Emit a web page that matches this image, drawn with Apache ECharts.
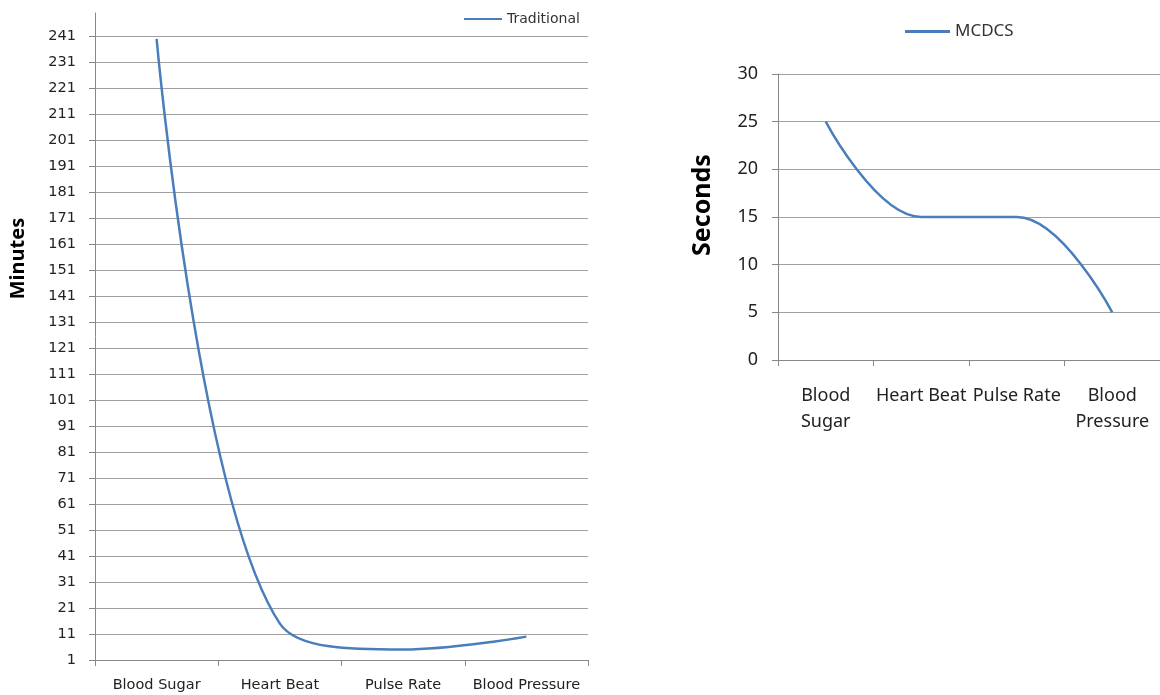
<!DOCTYPE html>
<html>
<head>
<meta charset="utf-8">
<script src="https://cdn.jsdelivr.net/npm/echarts@6/dist/echarts.min.js"></script>
<style>html,body{margin:0;padding:0;background:#fff}#c{width:1160px;height:695px}</style>
</head>
<body>
<div id="c"></div>
<script>
const categories = ['Blood Sugar', 'Heart Beat', 'Pulse Rate', 'Blood Pressure'];
const traditionalMinutes = [240, 15, 5, 10];
const mcdcsSeconds = [25, 15, 15, 5];

const lineColor = '#4a7ebb';
const axisGray = '#888888';
const gridGray = '#a0a0a0';

const chart = echarts.init(document.getElementById('c'));
chart.setOption({
  animation: false,
  backgroundColor: '#fff',
  legend: [
    {
      data: ['Traditional'], left: 459, top: 7, icon: 'rect', itemWidth: 38, itemHeight: 2, itemGap: 3,
      textStyle: { fontFamily: 'DejaVu Sans', fontSize: 14, color: '#333' }
    },
    {
      data: ['MCDCS'], left: 900, top: 18, icon: 'rect', itemWidth: 45, itemHeight: 3, itemGap: 4,
      textStyle: { fontFamily: 'Noto Sans', fontSize: 17, color: '#333' }
    }
  ],
  grid: [
    { left: 95, top: 13, width: 493, height: 647 },
    { left: 778, top: 74, width: 383, height: 286 }
  ],
  xAxis: [
    {
      type: 'category', gridIndex: 0, data: categories, boundaryGap: true,
      axisLine: { lineStyle: { color: axisGray, width: 1 } },
      axisTick: { show: true, length: 6, lineStyle: { color: axisGray } },
      axisLabel: { fontFamily: 'DejaVu Sans', fontSize: 14.5, color: '#222', margin: 18, interval: 0 }
    },
    {
      type: 'category', gridIndex: 1, data: categories, boundaryGap: true,
      axisLine: { lineStyle: { color: axisGray, width: 1 } },
      axisTick: { show: true, length: 6, lineStyle: { color: axisGray } },
      axisLabel: {
        fontFamily: 'Noto Sans', fontSize: 18, color: '#222', margin: 23, interval: 0, lineHeight: 26,
        formatter: v => v.startsWith('Blood') ? v.replace(' ', '\n') : v
      }
    }
  ],
  yAxis: [
    {
      type: 'value', gridIndex: 0, min: 1, max: 250, interval: 10,
      name: 'Minutes', nameLocation: 'middle', nameGap: 67, nameRotate: 90,
      nameTextStyle: { fontFamily: 'Noto Sans', fontSize: 20, color: '#000', fontWeight: 'bold', padding: [0, 0, 0, 156] },
      axisLine: { show: true, lineStyle: { color: axisGray, width: 1 } },
      axisTick: { show: true, length: 6, lineStyle: { color: axisGray } },
      axisLabel: { fontFamily: 'DejaVu Sans', fontSize: 14.5, color: '#222', margin: 19, showMaxLabel: false },
      splitLine: { show: true, showMaxLine: false, lineStyle: { color: gridGray, width: 1 } }
    },
    {
      type: 'value', gridIndex: 1, min: 0, max: 30, interval: 5,
      name: 'Seconds', nameLocation: 'middle', nameGap: 63, nameRotate: 90,
      nameTextStyle: { fontFamily: 'Noto Sans', fontSize: 25, color: '#000', fontWeight: 'bold', padding: [0, 0, 0, 24] },
      axisLine: { show: true, lineStyle: { color: axisGray, width: 1 } },
      axisTick: { show: true, length: 6, lineStyle: { color: axisGray } },
      axisLabel: { fontFamily: 'Noto Sans', fontSize: 18, color: '#222', margin: 20 },
      splitLine: { show: true, lineStyle: { color: gridGray, width: 1 } }
    }
  ],
  series: [
    {
      name: 'Traditional', type: 'line', xAxisIndex: 0, yAxisIndex: 0, data: traditionalMinutes,
      smooth: 0.4, symbol: 'none', lineStyle: { color: lineColor, width: 2.5 }, itemStyle: { color: lineColor }
    },
    {
      name: 'MCDCS', type: 'line', xAxisIndex: 1, yAxisIndex: 1, data: mcdcsSeconds,
      smooth: 0.4, symbol: 'none', lineStyle: { color: lineColor, width: 2.5 }, itemStyle: { color: lineColor }
    }
  ]
});
</script>
</body>
</html>
